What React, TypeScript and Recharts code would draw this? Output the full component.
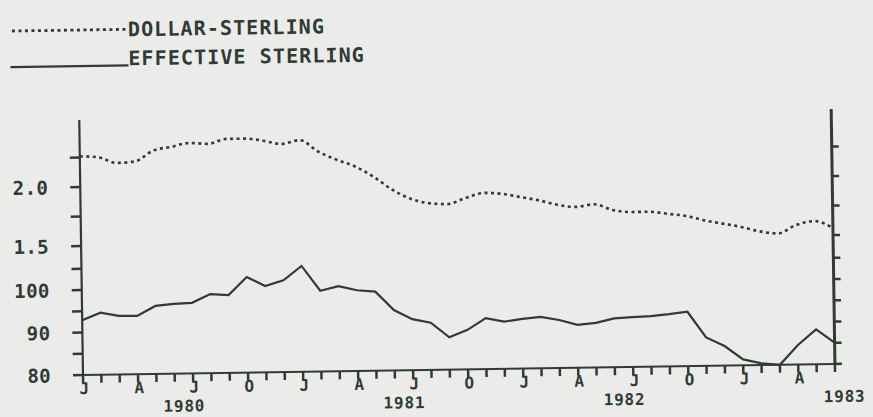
import React from "react";
import { LineChart, Line, XAxis, YAxis, Legend } from "recharts";

const INK = "#2f3b33";
const PAPER = "#ebece9";
const FONT = "'DejaVu Sans Mono', monospace";

// ---- data (monthly, Jan 1980 .. Jun 1983) ----
const quarterLetters = ["J", "A", "J", "O"];
const years = ["1980", "1981", "1982", "1983"];
const seriesNames = ["DOLLAR-STERLING", "EFFECTIVE STERLING"];

const dollarSterling = [
  2.26, 2.25, 2.2, 2.21, 2.3, 2.33, 2.36, 2.35, 2.39, 2.39, 2.37, 2.34,
  2.37, 2.27, 2.2, 2.14, 2.05, 1.94, 1.86, 1.82, 1.81, 1.86, 1.9, 1.89,
  1.86, 1.83, 1.79, 1.77, 1.79, 1.74, 1.72, 1.72, 1.7, 1.68, 1.64, 1.61,
  1.58, 1.54, 1.52, 1.59, 1.62, 1.56,
];

const effectiveSterling = [
  92.9, 94.6, 93.8, 93.7, 96.0, 96.4, 96.6, 98.6, 98.3, 102.5, 100.3, 101.6,
  104.9, 99.0, 100.0, 99.0, 98.6, 94.2, 92.0, 91.1, 87.6, 89.3, 92.0, 91.1,
  91.7, 92.1, 91.3, 90.1, 90.5, 91.5, 91.7, 91.9, 92.3, 92.8, 86.7, 84.6,
  81.4, 80.4, 80.0, 84.6, 88.2, 85.0,
];

const indexTicks = [80, 85, 90, 95, 100, 105];
const indexLabels = ["80", "", "90", "", "100", ""];
const dollarTicks = [1.5, 1.75, 2.0, 2.25];
const dollarLabels = ["1.5", "", "2.0", ""];

// Shared vertical scale: the dollar rate is drawn on the upper part of the index scale
const INDEX_DOMAIN: [number, number] = [80, 140];
const DOLLAR_BASE = 1.5;
const DOLLAR_BASE_ON_INDEX = 110.35;
const INDEX_PER_DOLLAR = 27.76;
const dollarToIndex = (d: number) => DOLLAR_BASE_ON_INDEX + (d - DOLLAR_BASE) * INDEX_PER_DOLLAR;

const rows = effectiveSterling.map((v, i) => ({
  m: i,
  eff: v,
  usd: dollarToIndex(dollarSterling[i]),
}));

const axisTicks = [
  ...indexTicks.map((v, k) => ({ pos: v, label: indexLabels[k] })),
  ...dollarTicks.map((v, k) => ({ pos: dollarToIndex(v), label: dollarLabels[k] })),
];
const axisTickPositions = axisTicks.map((t) => t.pos).sort((a, b) => a - b);
const monthTicks = rows.map((r) => r.m);

const labelFor = (v: number) => {
  const t = axisTicks.find((a) => Math.abs(a.pos - v) < 1e-6);
  return t ? t.label : "";
};

const YTick = (props: any) => {
  const { x, y, payload } = props;
  return (
    <text x={x} y={y} dy={7} textAnchor="end" fill={INK} fontFamily={FONT} fontWeight="bold" fontSize={19} letterSpacing={0.4}>
      {labelFor(payload.value)}
    </text>
  );
};

const NoTick = () => <g />;

const MonthTick = (props: any) => {
  const { x, y, payload, width } = props;
  const i = payload.value as number;
  const step = (width || 0) / (rows.length - 1);
  const q = i % 3 === 0 ? quarterLetters[(i % 12) / 3] : "";
  const yr = i % 12 === 5 ? years[Math.floor(i / 12)] : "";
  return (
    <g>
      {q && (
        <text x={x + 1} y={y + 11} textAnchor="middle" fill={INK} fontFamily={FONT} fontWeight="bold" fontSize={16}>
          {q}
        </text>
      )}
      {yr && (
        <text x={x + step / 2} y={y + 30} textAnchor="middle" fill={INK} fontFamily={FONT} fontWeight="bold" fontSize={16} letterSpacing={0.8}>
          {yr}
        </text>
      )}
    </g>
  );
};

const LegendBox = () => (
  <svg width={420} height={75}>
    <line x1={12} x2={126} y1={27} y2={27} stroke={INK} strokeWidth={2.8} strokeDasharray="3 3.5" />
    <text x={128} y={34} fill={INK} fontFamily={FONT} fontWeight="bold" fontSize={20} letterSpacing={1.1}>
      {seriesNames[0]}
    </text>
    <line x1={10} x2={128} y1={63} y2={63} stroke={INK} strokeWidth={2.2} />
    <text x={128} y={63} fill={INK} fontFamily={FONT} fontWeight="bold" fontSize={20} letterSpacing={1.1}>
      {seriesNames[1]}
    </text>
  </svg>
);

export default function App() {
  return (
    <div
      style={{
        position: "absolute",
        left: 0,
        top: 0,
        width: 873,
        height: 417,
        background: PAPER,
        overflow: "hidden",
      }}
    >
      <div
        style={{
          position: "absolute",
          left: 0,
          top: 0,
          width: 873,
          height: 417,
          transform: "rotate(-0.84deg)",
          transformOrigin: "83px 375px",
        }}
      >
        <LineChart width={873} height={417} data={rows} margin={{ top: 120, right: 8, bottom: 2, left: 23 }}>
          <XAxis
            dataKey="m"
            type="number"
            domain={[0, rows.length - 1]}
            ticks={monthTicks}
            interval={0}
            tickSize={8}
            tickMargin={0}
            tickLine={{ stroke: INK, strokeWidth: 2.5 }}
            axisLine={{ stroke: INK, strokeWidth: 2 }}
            tick={<MonthTick />}
            height={40}
          />
          <YAxis
            yAxisId="L"
            orientation="left"
            type="number"
            domain={INDEX_DOMAIN}
            ticks={axisTickPositions}
            interval={0}
            width={60}
            tickSize={10}
            tickMargin={22}
            tickLine={{ stroke: INK, strokeWidth: 2.5 }}
            axisLine={{ stroke: INK, strokeWidth: 2.2 }}
            tick={<YTick />}
          />
          <YAxis
            yAxisId="R"
            orientation="right"
            type="number"
            domain={INDEX_DOMAIN}
            ticks={axisTickPositions}
            interval={0}
            width={30}
            tickSize={7}
            tickLine={{ stroke: INK, strokeWidth: 2.5 }}
            axisLine={{ stroke: INK, strokeWidth: 3 }}
            tick={<NoTick />}
          />
          <Legend
            layout="horizontal"
            verticalAlign="middle"
            align="center"
            content={<LegendBox />}
            wrapperStyle={{ left: 5, top: 3, width: 420 }}
          />
          <Line
            yAxisId="L"
            type="monotone"
            dataKey="usd"
            name={seriesNames[0]}
            stroke={INK}
            strokeWidth={2.6}
            strokeDasharray="3 3.5"
            dot={false}
            isAnimationActive={false}
          />
          <Line
            yAxisId="R"
            type="linear"
            dataKey="eff"
            name={seriesNames[1]}
            stroke={INK}
            strokeWidth={2.2}
            dot={false}
            isAnimationActive={false}
          />
        </LineChart>
      </div>
    </div>
  );
}
